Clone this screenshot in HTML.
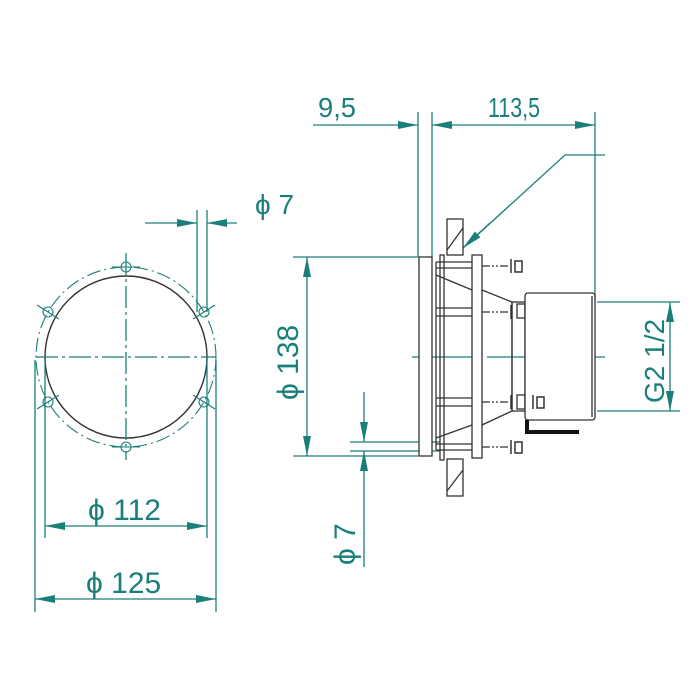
<!DOCTYPE html>
<html><head><meta charset="utf-8"><style>html,body{margin:0;padding:0;background:#fff}svg{display:block}</style></head><body>
<svg width="700" height="700" viewBox="0 0 700 700" xmlns="http://www.w3.org/2000/svg">
<defs>
<marker id="a" viewBox="0 0 20 8" refX="20" refY="4" markerWidth="20" markerHeight="8" orient="auto-start-reverse" markerUnits="userSpaceOnUse"><path d="M0,0 L20,4 L0,8 Z" fill="#1a7f7a"/></marker>
</defs>
<circle cx="126" cy="357" r="81" fill="none" stroke="#333" stroke-width="1.4"/>
<g fill="none" stroke="#1a7f7a" stroke-width="1.3">
<!-- left view -->
<circle cx="126" cy="357" r="90" stroke-dasharray="14,4,2,4" stroke-width="1.1"/>
<line x1="36" y1="357" x2="216" y2="357" stroke-dasharray="22,4,3,4"/>
<line x1="126" y1="253" x2="126" y2="460" stroke-dasharray="22,4,3,4"/>
<g stroke-width="1.1">
<circle cx="126" cy="267" r="5"/><circle cx="126" cy="447" r="5"/>
<circle cx="48" cy="312" r="5"/><circle cx="204" cy="312" r="5"/>
<circle cx="48" cy="402" r="5"/><circle cx="204" cy="402" r="5"/>
<line x1="112" y1="267" x2="140" y2="267"/><line x1="112" y1="447" x2="140" y2="447"/>
<line x1="37" y1="305" x2="59" y2="319"/><line x1="193" y1="319" x2="215" y2="305"/>
<line x1="37" y1="409" x2="59" y2="395"/><line x1="193" y1="395" x2="215" y2="409"/>
</g>
<line x1="197" y1="210" x2="197" y2="312"/><line x1="207" y1="210" x2="207" y2="312"/>
<line x1="145" y1="223" x2="197" y2="223" marker-end="url(#a)"/>
<line x1="237" y1="223" x2="207" y2="223" marker-end="url(#a)"/>
<line x1="45" y1="360" x2="45" y2="538"/><line x1="207" y1="360" x2="207" y2="538"/>
<line x1="35" y1="360" x2="35" y2="612"/><line x1="216" y1="360" x2="216" y2="612"/>
<line x1="45" y1="526" x2="207" y2="526" marker-start="url(#a)" marker-end="url(#a)"/>
<line x1="35" y1="599" x2="216" y2="599" marker-start="url(#a)" marker-end="url(#a)"/>
<!-- right view dims -->
<line x1="418" y1="112" x2="418" y2="257"/><line x1="432" y1="112" x2="432" y2="257"/>
<line x1="313" y1="125" x2="418" y2="125" marker-end="url(#a)"/>
<line x1="432" y1="125" x2="595" y2="125" marker-start="url(#a)" marker-end="url(#a)"/>
<line x1="595" y1="112" x2="595" y2="300"/>
<polyline points="605,155 565,155 463,248" />
<line x1="490" y1="223" x2="463" y2="248" marker-end="url(#a)"/>
<line x1="293" y1="257" x2="418" y2="257"/><line x1="293" y1="456" x2="418" y2="456"/>
<line x1="307" y1="257" x2="307" y2="456" marker-start="url(#a)" marker-end="url(#a)"/>
<line x1="350" y1="442" x2="440" y2="442"/><line x1="350" y1="451" x2="440" y2="451"/>
<line x1="364" y1="392" x2="364" y2="442" marker-end="url(#a)"/>
<line x1="364" y1="567" x2="364" y2="451" marker-end="url(#a)"/>
<line x1="597" y1="302" x2="680" y2="302"/><line x1="597" y1="411" x2="680" y2="411"/>
<line x1="670" y1="302" x2="670" y2="411" marker-start="url(#a)" marker-end="url(#a)"/>
<line x1="412" y1="357" x2="605" y2="357" stroke-dasharray="60,6,3,6"/>
</g>
<!-- mechanical part -->
<g fill="none" stroke="#333" stroke-width="1.3">
<rect x="419" y="257" width="13" height="199" fill="#fff"/>
<line x1="436" y1="262" x2="436" y2="450"/>
<rect x="440" y="255" width="4" height="205"/>
<rect x="447" y="219" width="16" height="36"/><rect x="447" y="459" width="16" height="37"/>
<line x1="447" y1="250" x2="463" y2="228"/><line x1="447" y1="491" x2="463" y2="470"/>
<line x1="436" y1="262" x2="472" y2="262"/><line x1="436" y1="268" x2="472" y2="268"/>
<line x1="436" y1="450" x2="472" y2="450"/><line x1="436" y1="444" x2="472" y2="444"/>
<line x1="436" y1="308" x2="472" y2="308"/><line x1="436" y1="316" x2="472" y2="316"/>
<line x1="436" y1="398" x2="472" y2="398"/><line x1="436" y1="406" x2="472" y2="406"/>
<line x1="436" y1="275" x2="472" y2="290"/><line x1="436" y1="438" x2="472" y2="425"/>
<rect x="472" y="255" width="10" height="203" fill="#fff"/>
<polyline points="482,290 512,302 512,411 482,425"/>
<rect x="512" y="302" width="13" height="109"/>
<rect x="517" y="304" width="8" height="14"/><rect x="517" y="395" width="8" height="14"/>
<rect x="525" y="293" width="70" height="127" rx="3" fill="#fff"/>
<line x1="592" y1="296" x2="592" y2="417"/>
<g stroke-dasharray="8,2,2,2,2,2"><line x1="482" y1="266" x2="510" y2="266"/><line x1="482" y1="312" x2="510" y2="312"/><line x1="482" y1="402" x2="510" y2="402"/><line x1="482" y1="447" x2="510" y2="447"/></g>
<g stroke-width="1.5">
<line x1="511" y1="259" x2="511" y2="273"/><rect x="515" y="261" width="7" height="11"/>
<line x1="511" y1="305" x2="511" y2="319"/>
<line x1="511" y1="395" x2="511" y2="409"/><line x1="533" y1="395" x2="533" y2="409"/><rect x="537" y="397" width="7" height="11"/>
<line x1="511" y1="440" x2="511" y2="454"/><rect x="515" y="442" width="7" height="11"/>
</g>
<polyline points="527,420 527,432 579,432" stroke="#111" stroke-width="4"/>
</g>
<g fill="#1a7f7a" font-family="Liberation Sans, sans-serif" font-size="28">
<text x="255" y="214">ϕ 7</text>
<text x="318" y="117" textLength="38" lengthAdjust="spacingAndGlyphs">9,5</text>
<text x="488" y="117" textLength="52" lengthAdjust="spacingAndGlyphs">113,5</text>
<text x="88" y="520" font-size="30">ϕ 112</text>
<text x="86" y="593" font-size="30">ϕ 125</text>
<text transform="translate(298,400) rotate(-90)" font-size="30">ϕ 138</text>
<text transform="translate(355,565) rotate(-90)" font-size="30">ϕ 7</text>
<text transform="translate(664,403) rotate(-90)" font-size="28">G2 1/2</text>
</g>
</svg>
</body></html>
